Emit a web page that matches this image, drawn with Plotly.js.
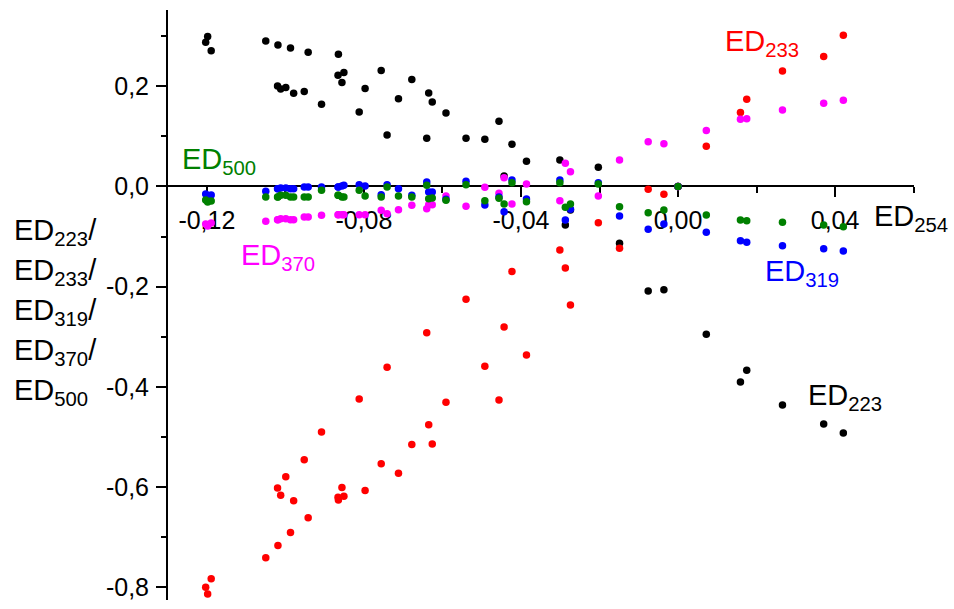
<!DOCTYPE html>
<html>
<head>
<meta charset="utf-8">
<script src="https://cdn.plot.ly/plotly-3.0.1.min.js"></script>
<style>html,body{margin:0;padding:0;background:#fff;}#chart{width:954px;height:609px;}</style>
</head>
<body>
<div id="chart"></div>
<script>
// ED254 (x) shared by all series
const ed254 = [-0.1203,-0.1198,-0.1189,-0.1050,-0.1020,-0.1019,-0.1012,-0.0999,-0.0987,-0.0979,
  -0.0952,-0.0942,-0.0908,-0.0865,-0.0866,-0.0856,-0.0851,-0.0812,-0.0797,-0.0756,
  -0.0741,-0.0712,-0.0678,-0.0640,-0.0635,-0.0626,-0.0591,-0.0540,-0.0492,-0.0456,
  -0.0443,-0.0423,-0.0386,-0.0301,-0.0287,-0.0274,-0.0203,-0.0149,-0.0076,-0.0036,
  0.0000,0.0072,0.0159,0.0175,0.0266,0.0371,0.0421];
const ed223 = [0.2878,0.2990,0.2705,0.2904,0.2006,0.2824,0.1946,0.1972,0.2764,0.1860,
  0.1892,0.2679,0.1641,0.2639,0.2220,0.2072,0.2271,0.1487,0.1952,0.2311,
  0.1028,0.1752,0.2132,0.0962,0.1866,0.1687,0.1467,0.0962,0.0942,0.1301,
  0.0210,0.0842,0.0503,0.0529,-0.0768,-0.0469,0.0383,-0.1134,-0.2086,-0.2060,
  0.0000,-0.2950,-0.3902,-0.3669,-0.4361,-0.4741,-0.4920];
const ed233 = [-0.7994,-0.8128,-0.7828,-0.7409,-0.6018,-0.7162,-0.6158,-0.5792,-0.6902,-0.6271,
  -0.5453,-0.6611,-0.4900,-0.6257,-0.6198,-0.6004,-0.6180,-0.4242,-0.6064,-0.5533,
  -0.3609,-0.5719,-0.5146,-0.2918,-0.4754,-0.5140,-0.4307,-0.2251,-0.3589,-0.4261,
  -0.2804,-0.1697,-0.3363,-0.1267,-0.1627,-0.2365,-0.0723,-0.1234,-0.0056,-0.0156,
  0.0000,0.0802,0.1473,0.1741,0.2305,0.2591,0.3018];
const ed370 = [-0.0749,-0.0788,-0.0729,-0.0695,-0.0663,-0.0663,-0.0643,-0.0643,-0.0663,-0.0663,
  -0.0609,-0.0609,-0.0575,-0.0563,-0.0563,-0.0563,-0.0563,-0.0563,-0.0563,-0.0475,
  -0.0543,-0.0463,-0.0375,-0.0443,-0.0363,-0.0363,-0.0190,-0.0395,-0.0016,-0.0136,
  0.0176,-0.0349,0.0050,-0.0283,0.0463,0.0295,-0.0190,0.0529,0.0894,0.0854,
  0.0000,0.1114,0.1341,0.1353,0.1527,0.1661,0.1721];
const ed319 = [-0.0150,-0.0190,-0.0170,-0.0096,-0.0044,-0.0044,-0.0030,-0.0030,-0.0044,-0.0044,
  -0.0010,-0.0010,-0.0010,-0.0010,-0.0010,0.0010,0.0024,0.0036,0.0010,-0.0164,
  0.0036,-0.0044,-0.0176,0.0090,-0.0110,-0.0110,-0.0255,0.0104,-0.0369,-0.0210,
  -0.0503,0.0130,-0.0250,0.0130,-0.0669,-0.0455,0.0076,-0.0589,-0.0854,-0.0749,
  0.0000,-0.0914,-0.1082,-0.1114,-0.1182,-0.1242,-0.1287];
const ed500 = [-0.0269,-0.0309,-0.0289,-0.0210,-0.0210,-0.0210,-0.0176,-0.0176,-0.0210,-0.0210,
  -0.0210,-0.0210,-0.0076,-0.0176,-0.0176,-0.0210,-0.0210,-0.0076,-0.0190,-0.0210,
  -0.0010,-0.0190,-0.0210,0.0024,-0.0244,-0.0230,-0.0275,0.0036,-0.0283,-0.0236,
  -0.0349,0.0076,-0.0303,0.0076,-0.0415,-0.0349,0.0050,-0.0403,-0.0523,-0.0469,
  0.0000,-0.0569,-0.0669,-0.0683,-0.0715,-0.0768,-0.0802];

const xTickVals = [-0.12,-0.08,-0.04,0.00,0.04];
const xTickText = ["-0,12","-0,08","-0,04","0,00","0,04"];
const xMinorVals = [-0.10,-0.06,-0.02,0.02,0.06];
const yTickVals = [0.2,0.0,-0.2,-0.4,-0.6,-0.8];
const yTickText = ["0,2","0,0","-0,2","-0,4","-0,6","-0,8"];
const yMinorVals = [0.3,0.1,-0.1,-0.3,-0.5,-0.7];

const seriesNames = ["ED223","ED233","ED370","ED319","ED500"];
const seriesColors = ["#000000","#ff0000","#ff00ff","#0000ff","#008000"];
const seriesData = [ed223, ed233, ed370, ed319, ed500];

const yTitleLines = ["ED<sub>223</sub>/","ED<sub>233</sub>/","ED<sub>319</sub>/","ED<sub>370</sub>/","ED<sub>500</sub>"];

const xRange = [-0.1299, 0.0601];
const yRange = [-0.825, 0.352];
const FONT = "Liberation Sans, Arial, sans-serif";

const traces = seriesData.map((ys, i) => ({
  type: "scatter", mode: "markers", name: seriesNames[i],
  x: ed254, y: ys,
  marker: {color: seriesColors[i], size: 7.5, line: {width: 0}},
  showlegend: false, cliponaxis: false
}));

const plotW = 954 - 168 - 40, plotH = 609 - 10 - 9;
const yTitleAnn = yTitleLines.map((t, k) => ({
  text: t, xref: "paper", yref: "paper",
  x: (12 - 168) / plotW, y: 1 - (232 + 40 * k - 10) / plotH,
  xanchor: "left", yanchor: "middle", align: "left", showarrow: false,
  font: {family: FONT, size: 29, color: "#000000"}
}));

const layout = {
  width: 954, height: 609,
  margin: {l: 168, r: 40, t: 10, b: 9},
  paper_bgcolor: "#fff", plot_bgcolor: "#fff",
  font: {family: FONT, size: 25, color: "#000"},
  showlegend: false,
  xaxis: {
    range: xRange, anchor: "free",
    position: (0 - yRange[0]) / (yRange[1] - yRange[0]),
    showgrid: false, zeroline: false, layer: "below traces",
    showline: true, linecolor: "#000", linewidth: 2,
    ticks: "outside", ticklen: 10, tickwidth: 2, tickcolor: "#000",
    tickmode: "array", tickvals: xTickVals, ticktext: xTickText,
    ticklabelstandoff: 2,
    tickfont: {family: FONT, size: 25, color: "#000"},
    minor: {tickmode: "array", tickvals: xMinorVals, ticks: "outside", ticklen: 6, tickwidth: 2, tickcolor: "#000", showgrid: false}
  },
  yaxis: {
    range: yRange, anchor: "x", side: "left",
    showgrid: false, zeroline: false, layer: "below traces",
    showline: true, linecolor: "#000", linewidth: 2,
    ticks: "outside", ticklen: 10, tickwidth: 2, tickcolor: "#000",
    tickmode: "array", tickvals: yTickVals, ticktext: yTickText,
    ticklabelstandoff: 2,
    tickfont: {family: FONT, size: 25, color: "#000"},
    minor: {tickmode: "array", tickvals: yMinorVals, ticks: "outside", ticklen: 5, tickwidth: 2, tickcolor: "#000", showgrid: false}
  },
  annotations: [
    {text: "ED<sub>233</sub>", x: 0.0213, y: 0.287, xref: "x", yref: "y", showarrow: false, font: {family: FONT, size: 29, color: "#ff0000"}},
    {text: "ED<sub>500</sub>", x: -0.1169, y: 0.050, xref: "x", yref: "y", showarrow: false, font: {family: FONT, size: 29, color: "#008000"}},
    {text: "ED<sub>370</sub>", x: -0.1019, y: -0.140, xref: "x", yref: "y", showarrow: false, font: {family: FONT, size: 29, color: "#ff00ff"}},
    {text: "ED<sub>319</sub>", x: 0.0317, y: -0.173, xref: "x", yref: "y", showarrow: false, font: {family: FONT, size: 29, color: "#0000ff"}},
    {text: "ED<sub>223</sub>", x: 0.0426, y: -0.420, xref: "x", yref: "y", showarrow: false, font: {family: FONT, size: 29, color: "#000000"}},
    {text: "ED<sub>254</sub>", x: 0.0494, y: -0.062, xref: "x", yref: "y", xanchor: "left", yanchor: "middle", showarrow: false, font: {family: FONT, size: 29, color: "#000000"}}
  ].concat(yTitleAnn)
};

Plotly.newPlot("chart", traces, layout, {displayModeBar: false, staticPlot: true});
</script>
</body>
</html>
